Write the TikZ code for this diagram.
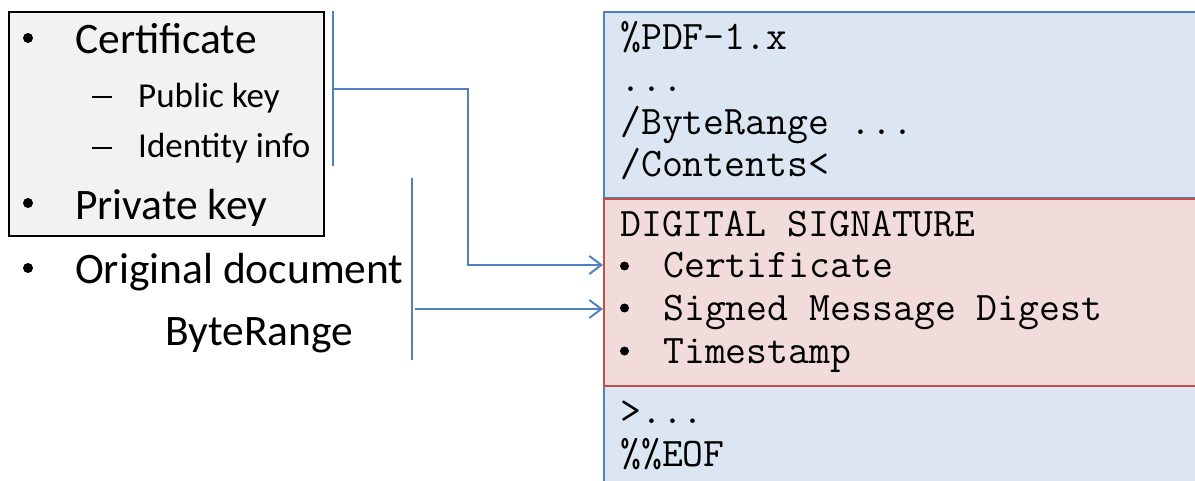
\documentclass[tikz,border=0pt]{standalone}
\usepackage{fontspec}
\setmainfont{Carlito}
\usetikzlibrary{arrows.meta}
\definecolor{linkblue}{HTML}{4F81BD}
\definecolor{pdffill}{HTML}{DCE6F2}
\definecolor{sigfill}{HTML}{F2DCDB}
\definecolor{sigline}{HTML}{C0504D}
\definecolor{keyfill}{HTML}{F2F2F2}
\tikzset{
  big/.style={anchor=base west,inner sep=0pt,font=\fontsize{43.5}{50}\selectfont},
  small/.style={anchor=base west,inner sep=0pt,font=\fontsize{35}{40}\selectfont},
  code/.style={anchor=base west,inner sep=0pt,font=\ttfamily\fontsize{40.6}{46}\selectfont},
  dot/.style={circle,fill=black,inner sep=0pt,minimum size=#1},
  dash line/.style={fill=black,inner sep=0pt,minimum width=20pt,minimum height=2.6pt},
  link/.style={draw=linkblue,line width=2pt},
  linkarrow/.style={link,-{Straight Barb[length=12pt,width=18pt,line width=2pt]}},
  pdfpart/.style={draw=linkblue,fill=pdffill,line width=2pt},
  sigpart/.style={draw=sigline,fill=sigfill,line width=2pt}
}
\begin{document}
\begin{tikzpicture}[x=1pt,y=-1pt]
\useasboundingbox (0,0) rectangle (1195,481);
\clip (0,0) rectangle (1195,481);

% credentials box
\node[draw=black,fill=keyfill,line width=2pt,minimum width=315pt,minimum height=224pt,inner sep=0pt,anchor=north west] (keys) at (8,11) {};
\node[dot=10pt] (b1) at (28,38) {};
\node[big] (cert) at (75,54) {Certificate};
\node[dash line] (d1) at (102,97) {};
\node[small] (pub) at (138,108) {Public key};
\node[dash line] (d2) at (102,148) {};
\node[small] (ident) at (138,158) {Identity info};
\node[dot=10pt] (b2) at (28,203) {};
\node[big] (priv) at (75,220) {Private key};
\node[dot=10pt] (b3) at (28,268) {};
\node[big] (orig) at (75,284) {Original document};
\node[big] (br) at (165,345) {ByteRange};

% PDF file layout
\node[pdfpart,minimum width=620pt,minimum height=186pt,inner sep=0pt,anchor=north west] (head) at (603,11) {};
\node[pdfpart,minimum width=620pt,minimum height=120pt,inner sep=0pt,anchor=north west] (tail) at (603,385) {};
\node[sigpart,minimum width=620pt,minimum height=187pt,inner sep=0pt,anchor=north west] (sig) at (603,198) {};

\node[code] (l1) at (620,50) {\%PDF-1.x};
\node[code] (l2) at (620,92) {...};
\node[code] (l3) at (620,135) {/ByteRange ...};
\node[code] (l4) at (620,177) {/Contents<};
\node[code] (s0) at (620,237) {DIGITAL SIGNATURE};
\node[dot=9pt] (sb1) at (624.5,266) {};
\node[code] (s1) at (663,278) {Certificate};
\node[dot=9pt] (sb2) at (624.5,308) {};
\node[code] (s2) at (663,320) {Signed Message Digest};
\node[dot=9pt] (sb3) at (624.5,351) {};
\node[code] (s3) at (663,363) {Timestamp};
\node[code] (l5) at (620,423) {>...};
\node[code] (l6) at (620,466) {\%\%EOF};

% brackets and connectors
\coordinate (c1top) at (333,11);
\coordinate (c1bot) at (333,166);
\coordinate (c1mid) at (333,89);
\coordinate (c1turn) at (468,89);
\coordinate (c2top) at (412,178);
\coordinate (c2bot) at (412,360);
\coordinate (c2mid) at (415,309);
\draw[link] (c1top) -- (c1bot);
\draw[link] (c2top) -- (c2bot);
\draw[linkarrow] (c1mid) -- (c1turn) |- (sig.west |- 0,265);
\draw[linkarrow] (c2mid) -- (sig.west |- c2mid);
\end{tikzpicture}
\end{document}
